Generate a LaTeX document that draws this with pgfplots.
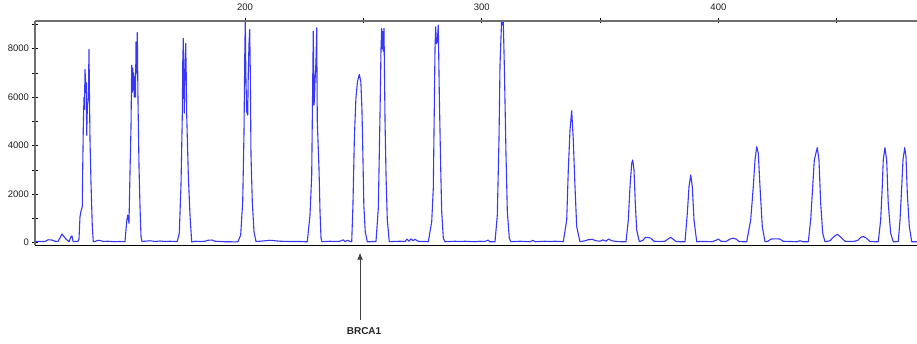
\documentclass[border=0pt]{standalone}
\usepackage{pgfplots}
\pgfplotsset{compat=1.18}
\usepackage{fontspec}
\setmainfont{Liberation Sans}
\usetikzlibrary{arrows.meta}
\definecolor{trace}{RGB}{55,55,250}
\definecolor{axgray}{RGB}{110,110,110}
\definecolor{lblgray}{RGB}{30,30,30}
\begin{document}
\begin{tikzpicture}
\useasboundingbox (0,0) rectangle (917pt,343pt);
\begin{axis}[
  at={(35pt,98pt)}, anchor=south west,
  scale only axis, width=882pt, height=224pt,
  xmin=111.28, xmax=483.9, ymin=-95, ymax=9140,
  axis line style={draw=none},
  xtick={200,250,300,350,400,450},
  xticklabels={200,,300,,400,},
  ytick={0,1000,...,9000},
  yticklabels={0,,2000,,4000,,6000,,8000,},
  xtick pos=right, xticklabel pos=right, ytick pos=left,
  tick align=center, major tick length=5pt,
  tick style={black, line width=0.8pt},
  xticklabel shift=4pt, yticklabel shift=0pt,
  ticklabel style={font=\fontsize{9.5}{10}\selectfont, text=lblgray},
  /pgf/number format/assume math mode=true,
]
\addplot[trace, line width=1.1pt, line join=round] coordinates {
(111.28,60)(113.39,50)(115.51,50)(116.77,120)(118.46,110)(119.73,60)(121.00,50)(121.84,200)(122.69,360)(123.53,250)(124.38,150)(125.22,80)(125.65,40)(126.49,250)(126.91,280)(127.34,60)(128.18,50)(129.45,60)
(129.87,150)(130.29,1070)(130.71,1300)(131.26,1480)(131.43,3000)(131.69,4780)(131.98,6000)(132.19,5500)(132.40,7140)(132.70,6570)(132.91,6600)(133.12,4430)(133.37,5470)(133.67,5900)(133.88,6400)(134.09,7970)(134.30,6000)(134.52,4230)(134.94,2460)(135.49,660)(135.91,40)
(136.63,50)(137.96,100)(138.81,90)(140.01,50)(142.12,60)(144.66,40)(147.19,50)(149.30,40)
(150.02,870)(150.44,1140)(150.70,1000)(150.99,800)(151.41,2870)(151.84,4780)(152.13,7320)(152.39,6200)(152.60,7200)(152.81,6290)(153.02,7000)(153.23,6000)(153.53,6840)(153.74,6000)(153.95,8280)(154.20,7000)(154.50,8670)(154.80,5800)(155.22,3130)(155.64,1480)(156.06,250)(156.49,50)
(157.75,60)(159.86,80)(161.98,50)(164.09,70)(166.20,50)(168.31,60)(170.43,50)(171.40,50)
(172.24,400)(172.96,2380)(173.51,5260)(173.72,7500)(173.93,8420)(174.14,6500)(174.36,5340)(174.57,6800)(174.95,8215)(175.16,7000)(175.37,5260)(176.05,2790)(176.76,1140)(177.48,30)
(178.88,60)(180.99,50)(183.10,60)(184.37,100)(186.06,110)(187.33,60)(189.44,50)(191.55,40)(193.66,40)(195.78,30)(197.04,40)
(198.18,320)(199.03,1690)(199.58,4570)(199.87,7500)(200.13,9300)(200.34,7000)(200.72,5400)(201.14,5260)(201.39,7000)(201.69,8215)(201.99,8790)(202.24,7000)(202.53,3610)(203.08,1690)(203.80,450)(204.65,50)
(206.34,60)(208.45,80)(210.56,100)(212.67,80)(214.79,60)(219.01,50)(223.24,50)(225.35,40)(226.32,40)
(227.46,1140)(228.18,2790)(228.60,6630)(228.85,8720)(229.15,5670)(229.36,6000)(229.57,6630)(229.99,7500)(230.29,8860)(230.54,4990)(231.26,3070)(231.69,1280)(232.11,190)(232.53,40)
(234.22,50)(235.91,60)(238.02,50)(240.13,60)(241.40,120)(242.25,50)(243.51,100)(244.36,50)(245.08,40)
(245.60,1550)(246.20,4300)(246.85,5950)(247.50,6630)(248.29,6940)(248.95,6630)(249.40,5500)(249.75,3890)(250.20,1550)(250.80,450)(251.67,40)
(252.81,40)(254.08,50)(255.34,50)
(256.32,1420)(257.03,5260)(257.46,8010)(257.75,8830)(257.96,8000)(258.17,8700)(258.39,7900)(258.72,8830)(259.15,5050)(259.57,2800)(260.12,935)(260.96,40)
(262.53,50)(265.48,60)(267.60,50)(268.44,150)(269.29,60)(270.13,160)(270.98,80)(271.82,140)(273.09,60)(274.78,50)(276.04,50)(277.44,40)
(278.88,870)(279.55,2240)(279.97,5540)(280.27,8010)(280.56,8900)(280.90,8200)(281.24,8280)(281.66,8970)(282.09,6080)(282.68,3070)(283.10,1280)(283.78,190)(284.49,40)
(286.61,50)(288.72,60)(290.83,50)(292.94,60)(295.06,50)(297.17,40)(299.28,60)(301.39,50)(302.66,110)(303.51,40)(305.62,40)
(306.59,1140)(307.31,4300)(307.73,7320)(308.45,9300)(308.79,8970)(309.12,9100)(309.55,7320)(310.27,3610)(310.82,1280)(311.66,190)(312.25,40)
(314.07,50)(316.18,60)(318.29,50)(320.40,40)(321.67,100)(322.52,40)(324.63,50)(326.74,60)(328.85,50)(330.97,60)(333.08,50)(334.47,40)
(335.91,935)(336.58,2990)(337.30,4640)(338.02,5440)(338.69,4230)(339.41,2310)(340.13,660)(341.52,40)
(343.64,80)(344.90,120)(346.59,140)(348.28,80)(349.97,60)(351.24,120)(352.51,60)(353.48,150)(355.04,80)(356.73,50)(359.15,40)(360.96,40)
(361.93,935)(362.65,2310)(363.37,3270)(363.79,3410)(364.34,3000)(364.89,1620)(365.48,520)(366.58,40)
(368.15,100)(368.99,200)(370.26,220)(371.53,180)(372.79,60)(375.33,50)(377.44,60)(378.71,150)(379.85,220)(380.82,150)(382.09,50)(383.78,40)(385.89,40)
(386.86,1210)(387.58,2310)(388.30,2790)(388.97,2310)(389.69,935)(390.83,40)
(392.23,50)(394.34,50)(397.30,40)(398.99,100)(399.96,150)(401.10,60)(403.21,50)(404.90,150)(406.30,190)(407.44,150)(408.71,50)(410.40,40)(411.95,40)
(413.64,935)(414.74,2310)(415.46,3410)(416.18,3960)(416.85,3680)(417.57,2310)(418.54,660)(419.68,40)
(420.95,60)(422.21,150)(424.33,160)(426.01,150)(427.28,60)(430.24,50)(433.20,40)(434.46,80)(435.73,40)(437.97,40)
(438.98,935)(439.83,2310)(440.51,3410)(441.77,3920)(442.49,3410)(443.21,1620)(444.05,390)(445.03,40)
(447.14,80)(448.83,250)(450.22,350)(451.78,220)(453.47,60)(455.58,50)(457.70,60)(458.96,100)(460.23,230)(461.20,250)(462.34,200)(464.03,50)(466.14,40)(467.53,40)
(468.55,935)(469.22,2310)(469.64,3410)(470.36,3920)(471.08,3410)(471.75,1620)(472.77,390)(473.86,40)
(475.00,40)(475.98,50)
(476.72,935)(477.44,2310)(477.98,3410)(478.70,3920)(479.25,3540)(479.80,2030)(480.65,660)(481.66,40)(483.90,40)
};
\coordinate (brca) at (axis cs:248.6,0);
\end{axis}
\draw[axgray, line width=1.4pt] (current axis.north west) -- (current axis.north east);
\draw[axgray, line width=1.1pt] (current axis.south west) -- (current axis.north west);
\draw[black, line width=0.8pt] (current axis.south west) -- (current axis.south east);
\draw[black!75, line width=1pt, -{Latex[length=7pt,width=6pt]}] (brca) ++(0,-77pt) -- ++(0,67pt);
\path (brca) ++(4pt,-88pt) node[font=\fontsize{10}{12}\selectfont\bfseries, text=black!85] {BRCA1};
\end{tikzpicture}
\end{document}
